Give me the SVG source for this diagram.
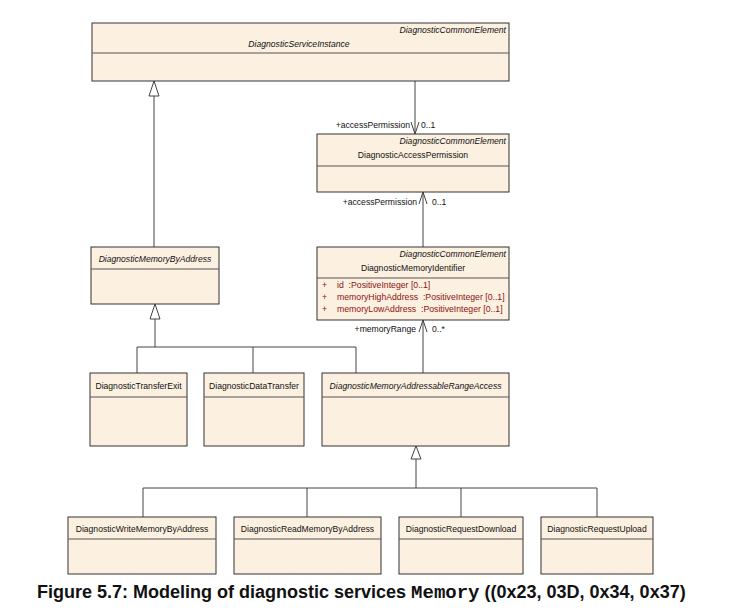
<svg xmlns="http://www.w3.org/2000/svg" width="737" height="611" viewBox="0 0 737 611">
<defs>
<style>
.box{fill:#fcf0e1;stroke:#333;stroke-width:1}
.sep{stroke:#555;stroke-width:1}
.t{font-family:"Liberation Sans",Arial,sans-serif;font-size:8.6px;fill:#111}
.i{font-style:italic}
.c{text-anchor:middle}
.r{text-anchor:end}
.a{font-family:"Liberation Sans",Arial,sans-serif;font-size:8.7px;fill:#8b1212}
.ln{stroke:#444;stroke-width:1;fill:none}
.tri{fill:#fff;stroke:#444;stroke-width:1}
.cap{font-family:"Liberation Sans",Arial,sans-serif;font-size:18px;font-weight:bold;fill:#111}
.mono{font-family:"Liberation Mono","Courier New",monospace;font-size:19px;font-weight:bold}
</style>
</defs>
<rect width="737" height="611" fill="#fff"/>
<g id="connectors">
<line class="ln" x1="154" y1="247" x2="154" y2="96"/>
<polygon class="tri" points="154,81 149,96 159,96"/>
<line class="ln" x1="415" y1="81" x2="415" y2="134"/>
<polyline class="ln" points="411,122 415,134 419,122"/>
<text class="t" x="410" y="128" text-anchor="end">+accessPermission</text>
<text class="t" x="421" y="128">0..1</text>
<line class="ln" x1="423" y1="247" x2="423" y2="192"/>
<polyline class="ln" points="419,204 423,192 427,204"/>
<text class="t" x="417" y="205" text-anchor="end">+accessPermission</text>
<text class="t" x="432" y="205">0..1</text>
<line class="ln" x1="423" y1="373" x2="423" y2="320"/>
<polyline class="ln" points="419,332 423,320 427,332"/>
<text class="t" x="416" y="332" text-anchor="end">+memoryRange</text>
<text class="t" x="432" y="332">0..*</text>
<polygon class="tri" points="155,304 150,319 160,319"/>
<polyline class="ln" points="155,319 155,347"/>
<polyline class="ln" points="137,373 137,347 356,347 356,373"/>
<line class="ln" x1="253" y1="347" x2="253" y2="373"/>
<polygon class="tri" points="416,446 411,459 421,459"/>
<polyline class="ln" points="416,459 416,488"/>
<polyline class="ln" points="143,517 143,488 597,488 597,517"/>
<line class="ln" x1="307" y1="488" x2="307" y2="517"/>
<line class="ln" x1="461" y1="488" x2="461" y2="517"/>
</g>
<g id="DiagnosticServiceInstance">
<rect class="box" x="92" y="23" width="417" height="58"/>
<line class="sep" x1="92" y1="53" x2="509" y2="53"/>
<text class="t i r" x="506" y="33">DiagnosticCommonElement</text>
<text class="t i c" x="299" y="47">DiagnosticServiceInstance</text>
</g>
<g id="DiagnosticAccessPermission">
<rect class="box" x="317" y="134" width="192" height="58"/>
<line class="sep" x1="317" y1="166" x2="509" y2="166"/>
<text class="t i r" x="506" y="144">DiagnosticCommonElement</text>
<text class="t c" x="413" y="158">DiagnosticAccessPermission</text>
</g>
<g id="DiagnosticMemoryIdentifier">
<rect class="box" x="317" y="247" width="192" height="73"/>
<line class="sep" x1="317" y1="278" x2="509" y2="278"/>
<text class="t i r" x="506" y="257">DiagnosticCommonElement</text>
<text class="t c" x="413" y="271">DiagnosticMemoryIdentifier</text>
<text class="a" x="322" y="288">+</text><text class="a" x="337" y="288" xml:space="preserve">id  :PositiveInteger [0..1]</text>
<text class="a" x="322" y="300">+</text><text class="a" x="337" y="300" xml:space="preserve">memoryHighAddress  :PositiveInteger [0..1]</text>
<text class="a" x="322" y="312">+</text><text class="a" x="337" y="312" xml:space="preserve">memoryLowAddress  :PositiveInteger [0..1]</text>
</g>
<g id="DiagnosticMemoryByAddress">
<rect class="box" x="91" y="247" width="128" height="57"/>
<line class="sep" x1="91" y1="269" x2="219" y2="269"/>
<text class="t i c" x="155" y="262">DiagnosticMemoryByAddress</text>
</g>
<g id="DiagnosticTransferExit">
<rect class="box" x="90" y="373" width="97" height="73"/>
<line class="sep" x1="90" y1="397" x2="187" y2="397"/>
<text class="t c" x="138.5" y="389">DiagnosticTransferExit</text>
</g>
<g id="DiagnosticDataTransfer">
<rect class="box" x="204" y="373" width="100" height="73"/>
<line class="sep" x1="204" y1="397" x2="304" y2="397"/>
<text class="t c" x="254" y="389">DiagnosticDataTransfer</text>
</g>
<g id="DiagnosticMemoryAddressableRangeAccess">
<rect class="box" x="322" y="373" width="187" height="73"/>
<line class="sep" x1="322" y1="397" x2="509" y2="397"/>
<text class="t i c" x="415.5" y="389">DiagnosticMemoryAddressableRangeAccess</text>
</g>
<g id="DiagnosticWriteMemoryByAddress">
<rect class="box" x="68" y="517" width="148" height="57"/>
<line class="sep" x1="68" y1="539" x2="216" y2="539"/>
<text class="t c" x="142" y="532">DiagnosticWriteMemoryByAddress</text>
</g>
<g id="DiagnosticReadMemoryByAddress">
<rect class="box" x="234" y="517" width="147" height="57"/>
<line class="sep" x1="234" y1="539" x2="381" y2="539"/>
<text class="t c" x="307.5" y="532">DiagnosticReadMemoryByAddress</text>
</g>
<g id="DiagnosticRequestDownload">
<rect class="box" x="399" y="517" width="124" height="57"/>
<line class="sep" x1="399" y1="539" x2="523" y2="539"/>
<text class="t c" x="461" y="532">DiagnosticRequestDownload</text>
</g>
<g id="DiagnosticRequestUpload">
<rect class="box" x="541" y="517" width="112" height="57"/>
<line class="sep" x1="541" y1="539" x2="653" y2="539"/>
<text class="t c" x="597" y="532">DiagnosticRequestUpload</text>
</g>
<text class="cap" x="37" y="598">Figure 5.7: Modeling of diagnostic services <tspan class="mono">Memory</tspan> ((0x23, 03D, 0x34, 0x37)</text>
</svg>
